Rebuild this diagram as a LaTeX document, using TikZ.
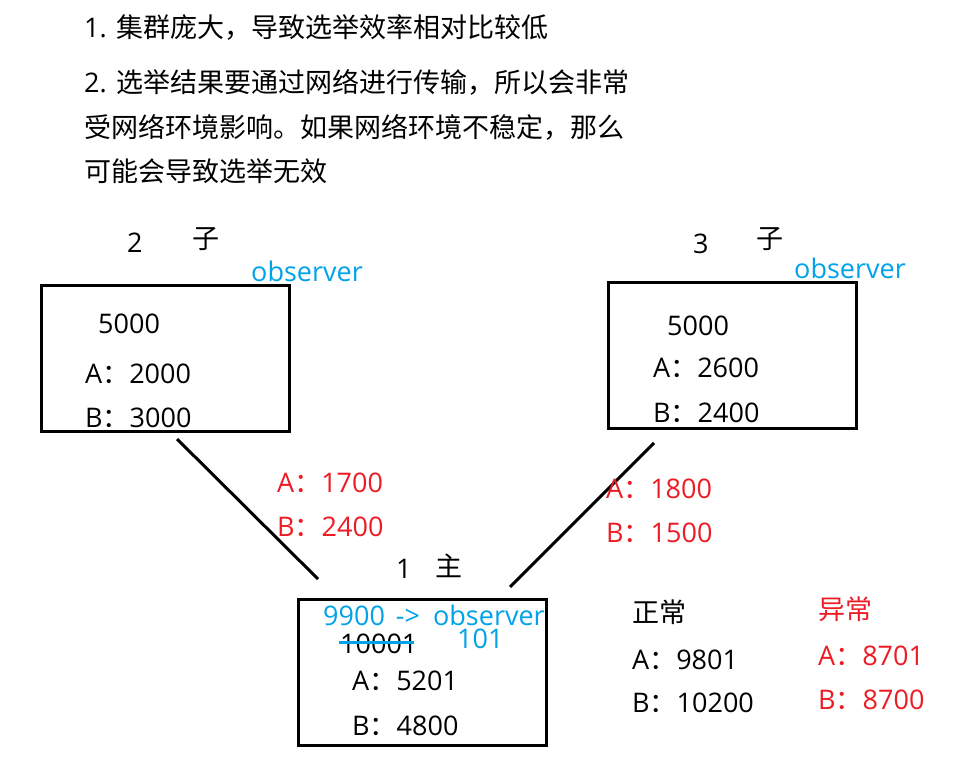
\documentclass[tikz,border=0pt]{standalone}
\usepackage{fontspec}
\setmainfont{Noto Sans CJK SC}
\newfontfamily\latfont{Open Sans}
\newcommand\ls[1]{{\latfont #1}}
\definecolor{obsblue}{RGB}{0,162,232}
\definecolor{inkred}{RGB}{237,28,36}
\begin{document}
\begin{tikzpicture}[x=1pt,y=-1pt,
  txt/.style={anchor=base west,inner sep=0pt,font=\fontsize{27}{32}\selectfont},
  obs/.style={txt,text=obsblue},
  red/.style={txt,text=inkred},
  box/.style={draw,line width=3pt,minimum width=248pt,minimum height=146pt,inner sep=0pt},
  link/.style={line width=3pt}]
\useasboundingbox[fill=white] (0,0) rectangle (963,759);
% header text
\node[txt] (h1) at (84,38) {\ls{1. }集群庞大，导致选举效率相对比较低};
\node[txt] (h2) at (84,93) {\ls{2. }选举结果要通过网络进行传输，所以会非常};
\node[txt] (h3) at (84,138) {受网络环境影响。如果网络环境不稳定，那么};
\node[txt] (h4) at (84,182) {可能会导致选举无效};
% boxes
\node[box] (b2) at (165.5,358.5) {};
\node[box] (b3) at (732.5,355.5) {};
\node[box] (b1) at (422.5,672.5) {};
% box 2
\node[txt] (n2) at (127,252) {\ls{2}};
\node[txt] (z2) at (192,248) {子};
\node[obs] (o2) at (251,281) {\ls{observer}};
\node[txt] (v2) at (98,333) {\ls{5000}};
\node[txt] (a2) at (85,383) {\ls{A}：\ls{2000}};
\node[txt] (c2) at (85,427) {\ls{B}：\ls{3000}};
% box 3
\node[txt] (n3) at (693,254) {\ls{3}};
\node[txt] (z3) at (756,249) {子};
\node[obs] (o3) at (794,278) {\ls{observer}};
\node[txt] (v3) at (667,335) {\ls{5000}};
\node[txt] (a3) at (653,377) {\ls{A}：\ls{2600}};
\node[txt] (c3) at (653,422) {\ls{B}：\ls{2400}};
% box 1
\node[txt] (n1) at (396,578) {\ls{1}};
\node[txt] (z1) at (435,576) {主};
\node[obs] (o1) at (323,625) {\ls{9900\hspace{4pt} ->\hspace{6pt} observer}};
\node[obs] (x1) at (457,648) {\ls{101}};
\node[txt] (v1) at (340,653) {\ls{10001}};
\coordinate (s1a) at (339,642);
\coordinate (s1b) at (414,642);
\draw[obsblue,line width=3pt] (s1a) -- (s1b);
\node[txt] (a1) at (352,690) {\ls{A}：\ls{5201}};
\node[txt] (c1) at (352,735) {\ls{B}：\ls{4800}};
% links
\coordinate (l1a) at (177,439);
\coordinate (l1b) at (318,579);
\coordinate (l2a) at (654,443);
\coordinate (l2b) at (510,587);
\draw[link] (l1a) -- (l1b);
\draw[link] (l2a) -- (l2b);
% red labels
\node[red] (ra1) at (277,492) {\ls{A}：\ls{1700}};
\node[red] (rb1) at (277,536) {\ls{B}：\ls{2400}};
\node[red] (ra2) at (606,498) {\ls{A}：\ls{1800}};
\node[red] (rb2) at (606,542) {\ls{B}：\ls{1500}};
% normal / abnormal
\node[txt] (zc) at (632,622) {正常};
\node[txt] (za) at (632,669) {\ls{A}：\ls{9801}};
\node[txt] (zb) at (632,712) {\ls{B}：\ls{10200}};
\node[red] (yc) at (818,619) {异常};
\node[red] (ya) at (818,665) {\ls{A}：\ls{8701}};
\node[red] (yb) at (818,709) {\ls{B}：\ls{8700}};
\end{tikzpicture}
\end{document}
